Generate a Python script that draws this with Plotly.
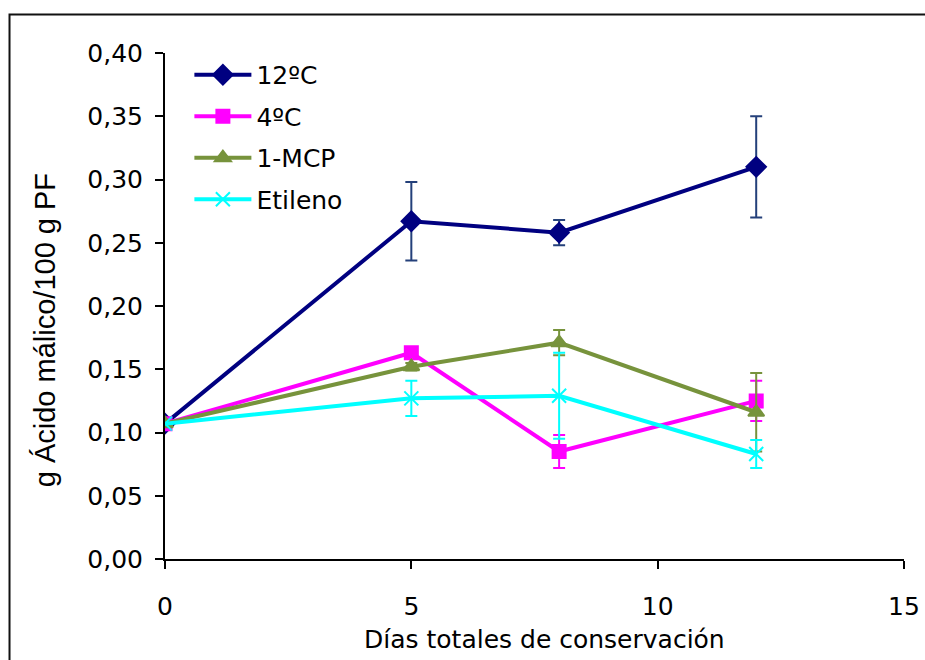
import plotly.graph_objects as go

# Storage days
dias = [0, 5, 8, 12]

# Malic acid content (g / 100 g FW) per treatment, with standard deviations
t12 = [0.107, 0.267, 0.258, 0.310]
t12_err = [0.0, 0.031, 0.010, 0.040]

t4 = [0.107, 0.163, 0.085, 0.125]
t4_err = [0.0, 0.003, 0.013, 0.016]

mcp = [0.107, 0.152, 0.171, 0.116]
mcp_err = [0.0, 0.003, 0.010, 0.031]

etileno = [0.107, 0.127, 0.129, 0.083]
etileno_err = [0.0, 0.014, 0.034, 0.011]

nombres = ["12ºC", "4ºC", "1-MCP", "Etileno"]
x_ticks = [0, 5, 10, 15]

series = [
    (nombres[0], t12, t12_err, "#000080", "#24407A", "diamond", 15),
    (nombres[1], t4, t4_err, "#FF00FF", "#FF00FF", "square", 13),
    (nombres[2], mcp, mcp_err, "#77933C", "#77933C", "triangle-up", 14),
    (nombres[3], etileno, etileno_err, "#00FFFF", "#00FFFF", "x-thin-open", 14),
]

fig = go.Figure()
for i, (name, vals, errs, color, ecolor, symbol, size) in enumerate(series):
    fig.add_trace(go.Scatter(
        x=dias, y=vals, name=name, mode="lines+markers",
        legendgroup=f"g{i}",
        line=dict(color=color, width=4),
        marker=dict(symbol=symbol, size=size, color=color,
                    line=dict(color=color, width=2)),
        error_y=dict(type="data", array=errs, visible=True,
                     color=ecolor, thickness=2, width=6),
    ))

tick_font = dict(family="DejaVu Sans", size=25, color="#000000")

fig.update_layout(
    width=925, height=660,
    margin=dict(l=165, r=21, t=53, b=101),
    paper_bgcolor="white", plot_bgcolor="white",
    separators=",.",
    showlegend=True,
    legend=dict(
        x=0.033, y=1.002, xanchor="left", yanchor="top",
        font=dict(family="DejaVu Sans", size=25, color="#000000"),
        bgcolor="rgba(0,0,0,0)", itemwidth=57, tracegroupgap=6,
    ),
    xaxis=dict(
        range=[0, 15], tickvals=x_ticks, showgrid=False, zeroline=False,
        automargin=False,
        showline=True, linecolor="black", linewidth=2,
        ticks="outside", ticklen=8, tickwidth=2, tickcolor="black",
        tickfont=tick_font, ticklabelstandoff=16,
    ),
    yaxis=dict(
        range=[0, 0.40], dtick=0.05, tick0=0, tickformat=".2f",
        showgrid=False, zeroline=False, automargin=False,
        showline=True, linecolor="black", linewidth=2,
        ticks="outside", ticklen=8, tickwidth=2, tickcolor="black",
        tickfont=tick_font, ticklabelstandoff=7,
    ),
    annotations=[
        dict(text="Días totales de conservación", xref="paper", yref="paper",
             x=0.514, y=-0.160, xanchor="center", yanchor="middle",
             showarrow=False,
             font=dict(family="DejaVu Sans", size=25, color="#000000")),
        dict(text="g Ácido málico/100 g PF", xref="paper", yref="paper",
             x=-0.162, y=0.4526, xanchor="center", yanchor="middle",
             textangle=-90, showarrow=False,
             font=dict(family="Liberation Sans", size=29, color="#000000")),
    ],
    shapes=[
        dict(type="rect", xref="paper", yref="paper",
             x0=-0.2104, x1=1.04, y0=-0.22, y1=1.0761,
             line=dict(color="#111111", width=2), layer="below"),
    ],
)

fig.write_html("out.html")
